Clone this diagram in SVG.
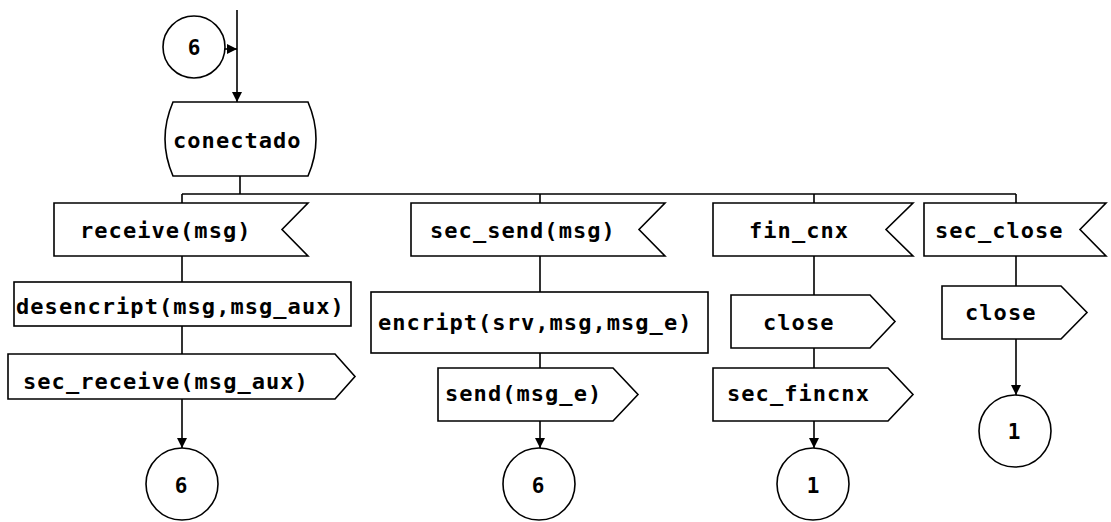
<svg xmlns="http://www.w3.org/2000/svg" width="1111" height="522" viewBox="0 0 1111 522">
<style>
.s{fill:#fff;stroke:#000;stroke-width:1.6}
.c{fill:none;stroke:#000;stroke-width:1.6}
.t{font-family:"DejaVu Sans Mono","Liberation Mono",monospace;font-weight:bold;font-size:22px;letter-spacing:1.05px;fill:#000}
.n{font-family:"DejaVu Sans Mono","Liberation Mono",monospace;font-weight:bold;font-size:21px;fill:#000;text-anchor:middle}
</style>
<defs>
<marker id="ah" viewBox="0 0 10 10" refX="10" refY="5" markerWidth="10" markerHeight="10" markerUnits="userSpaceOnUse" orient="auto">
<path d="M0,0 L10,5 L0,10 Z" fill="#000"/>
</marker>
</defs>
<g id="connectors">
<path class="c" d="M237,10 V102" marker-end="url(#ah)"/>
<path class="c" d="M225,49 H237" marker-end="url(#ah)"/>
<path class="c" d="M240,176 V194 M182,194 H1016 M182,194 V203 M540,194 V203 M814,194 V203 M1016,194 V203"/>
<path class="c" d="M182,256 V282 M182,326 V354"/>
<path class="c" d="M182,399 V448" marker-end="url(#ah)"/>
<path class="c" d="M540,256 V292 M540,353 V368"/>
<path class="c" d="M540,421 V448" marker-end="url(#ah)"/>
<path class="c" d="M814,256 V295 M814,348 V368"/>
<path class="c" d="M814,421 V448" marker-end="url(#ah)"/>
<path class="c" d="M1016,256 V286"/>
<path class="c" d="M1016,339 V395" marker-end="url(#ah)"/>
</g>
<g id="conn_top">
<circle class="s" cx="194" cy="47" r="31"/>
<text class="n" x="194" y="55">6</text>
</g>
<g id="conectado">
<path class="s" d="M173,102 H308 Q324,139 308,176 H173 Q157,139 173,102 Z"/>
<text class="t" x="173" y="148">conectado</text>
</g>
<g id="receive">
<path class="s" d="M54,203 H308 L282,229.5 L308,256 H54 Z"/>
<text class="t" x="80" y="238">receive(msg)</text>
</g>
<g id="desencript">
<rect class="s" x="14" y="282" width="337" height="44"/>
<text class="t" x="16" y="314">desencript(msg,msg_aux)</text>
</g>
<g id="sec_receive">
<path class="s" d="M8,354 H335 L355,376.5 L335,399 H8 Z"/>
<text class="t" x="23" y="389">sec_receive(msg_aux)</text>
</g>
<g id="conn_6a">
<circle class="s" cx="182" cy="484" r="36"/>
<text class="n" x="181" y="493">6</text>
</g>
<g id="sec_send">
<path class="s" d="M411,203 H665 L639,229.5 L665,256 H411 Z"/>
<text class="t" x="430" y="238">sec_send(msg)</text>
</g>
<g id="encript">
<rect class="s" x="371" y="292" width="337" height="61"/>
<text class="t" x="378" y="330">encript(srv,msg,msg_e)</text>
</g>
<g id="send">
<path class="s" d="M438,368 H613 L638,394.5 L613,421 H438 Z"/>
<text class="t" x="445" y="401">send(msg_e)</text>
</g>
<g id="conn_6b">
<circle class="s" cx="539" cy="484" r="36"/>
<text class="n" x="538" y="493">6</text>
</g>
<g id="fin_cnx">
<path class="s" d="M713,203 H913 L886,229.5 L913,256 H713 Z"/>
<text class="t" x="749" y="238">fin_cnx</text>
</g>
<g id="close1">
<path class="s" d="M731,295 H870 L895,321.5 L870,348 H731 Z"/>
<text class="t" x="763" y="330">close</text>
</g>
<g id="sec_fincnx">
<path class="s" d="M713,368 H888 L913,394.5 L888,421 H713 Z"/>
<text class="t" x="727" y="401">sec_fincnx</text>
</g>
<g id="conn_1a">
<circle class="s" cx="813" cy="484" r="36"/>
<text class="n" x="813" y="493">1</text>
</g>
<g id="sec_close">
<path class="s" d="M924,203 H1106 L1080,229.5 L1106,256 H924 Z"/>
<text class="t" x="935" y="238">sec_close</text>
</g>
<g id="close2">
<path class="s" d="M942,286 H1061 L1087,312.5 L1061,339 H942 Z"/>
<text class="t" x="965" y="320">close</text>
</g>
<g id="conn_1b">
<circle class="s" cx="1015" cy="431" r="36"/>
<text class="n" x="1014" y="439">1</text>
</g>
</svg>
